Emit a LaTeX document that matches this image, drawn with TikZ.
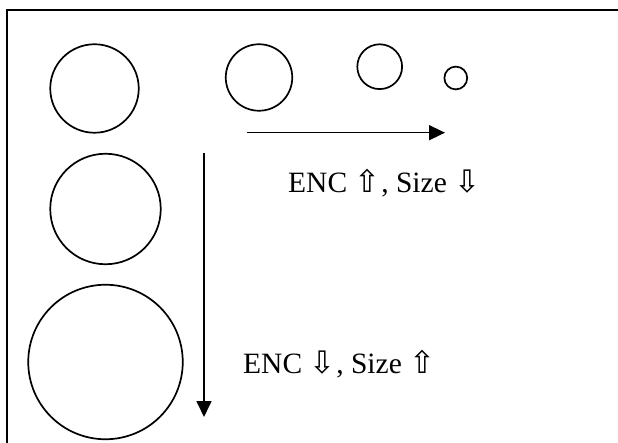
\documentclass[tikz,border=0pt]{standalone}
\usepackage{fontspec}
\setmainfont{Liberation Serif}
\newfontfamily\symfont{DejaVu Sans}
\usetikzlibrary{arrows.meta}
\newcommand{\arw}[1]{{\symfont\fontsize{31}{34}\selectfont#1\hspace{0.8pt}}}
\begin{document}
\begin{tikzpicture}[x=1pt,y=-1pt,
  ball/.style={circle, draw, line width=1.7pt, inner sep=0pt, minimum size=#1},
  flow/.style={line width=1.6pt, -{Triangle[length=16pt,width=15pt]}},
  lbl/.style={anchor=base west, inner sep=0pt, font=\fontsize{29.5}{34}\selectfont}]
\useasboundingbox (0,0) rectangle (618,443);
\draw[line width=1.8pt] (620,10) -- (7,10) -- (7,445);
% top row
\node[ball=88.5pt] (a1) at (94.5,88.5) {};
\node[ball=66.5pt] (a2) at (259,77.5) {};
\node[ball=44.8pt] (a3) at (379.7,66.7) {};
\node[ball=22.8pt] (a4) at (455.8,78) {};
% left column
\node[ball=110.5pt] (b1) at (105.5,209) {};
\node[ball=154.5pt] (b2) at (105.5,362) {};
% arrows
\coordinate (h0) at (247,132.7);
\coordinate (h1) at (445,132.7);
\coordinate (v0) at (204,153);
\coordinate (v1) at (204,417);
\draw[flow] (h0) -- (h1);
\draw[flow] (v0) -- (v1);
% labels
\node[lbl] (t1) at (288,193) {ENC \arw{⇧}, Size \arw{⇩}};
\node[lbl] (t2) at (243,373) {ENC \arw{⇩}, Size \arw{⇧}};
\end{tikzpicture}
\end{document}
